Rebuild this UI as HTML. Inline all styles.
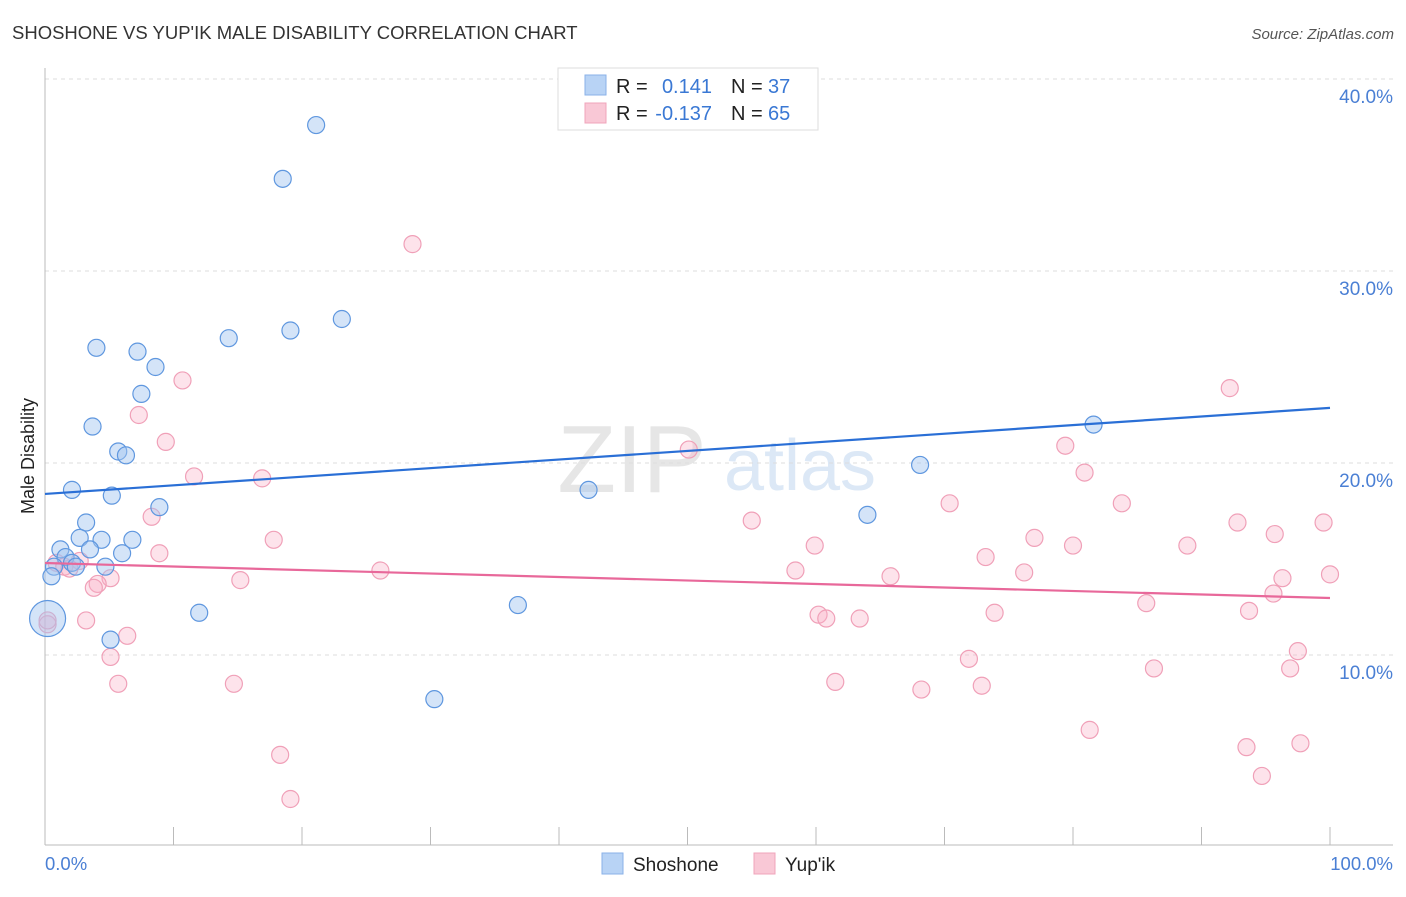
<!DOCTYPE html>
<html><head><meta charset="utf-8"><style>
body{margin:0;background:#fff;font-family:"Liberation Sans",sans-serif;}
svg text{font-family:"Liberation Sans",sans-serif;}
</style></head><body>
<svg id="chart" width="1406" height="892">
<text x="12" y="39" font-size="18.5" fill="#333">SHOSHONE VS YUP'IK MALE DISABILITY CORRELATION CHART</text>
<text x="1394" y="39" font-size="15" fill="#555" font-style="italic" text-anchor="end">Source: ZipAtlas.com</text>
<text x="632" y="492" font-size="96" fill="#e6e6e6" font-family="Liberation Serif" text-anchor="middle">ZIP</text>
<text x="800" y="490" font-size="72" fill="#dce8f6" text-anchor="middle">atlas</text>
<text transform="translate(34,456) rotate(-90)" font-size="18" fill="#222" text-anchor="middle">Male Disability</text>
<g id="grid"></g><g id="pts"></g><g id="lines"></g>
<g>
<rect x="558" y="68" width="260" height="62" fill="#fff" stroke="#ddd"/>
<rect x="585" y="75" width="21" height="20" fill="#b8d3f5" stroke="#8ab2e8"/>
<rect x="585" y="103" width="21" height="20" fill="#f9c8d6" stroke="#f0a4bb"/>
<text x="616" y="93" font-size="20" fill="#222">R =</text>
<text x="712" y="93" font-size="20" fill="#3a78d4" text-anchor="end">0.141</text>
<text x="731" y="93" font-size="20" fill="#222">N =</text><text x="768" y="93" font-size="20" fill="#3a78d4">37</text>
<text x="616" y="120" font-size="20" fill="#222">R =</text>
<text x="712" y="120" font-size="20" fill="#3a78d4" text-anchor="end">-0.137</text>
<text x="731" y="120" font-size="20" fill="#222">N =</text><text x="768" y="120" font-size="20" fill="#3a78d4">65</text>
</g>
<g>
<rect x="602" y="853" width="21" height="21" fill="#b8d3f5" stroke="#8ab2e8"/>
<text x="633" y="871" font-size="19" fill="#222">Shoshone</text>
<rect x="754" y="853" width="21" height="21" fill="#f9c8d6" stroke="#f0a4bb"/>
<text x="785" y="871" font-size="19" fill="#222">Yup'ik</text>
</g>
<text x="45" y="870" font-size="18.5" fill="#4a7fd4">0.0%</text>
<text x="1393" y="870" font-size="18.5" fill="#4a7fd4" text-anchor="end">100.0%</text>
</svg>
<script>
const yTicks=[10,20,30,40];
const blueX=[21.1,18.5,23.1,19.1,14.3,4.0,7.2,8.6,7.5,3.7,5.7,6.3,2.1,5.2,8.9,3.2,2.7,4.4,6.8,1.2,3.5,6.0,1.6,2.1,0.7,4.7,2.4,0.5,12.0,5.1,0.2,30.3,36.8,42.3,64.0,68.1,81.6];
const blueY=[37.6,34.8,27.5,26.9,26.5,26.0,25.8,25.0,23.6,21.9,20.6,20.4,18.6,18.3,17.7,16.9,16.1,16.0,16.0,15.5,15.5,15.3,15.1,14.8,14.6,14.6,14.6,14.1,12.2,10.8,11.9,7.7,12.6,18.6,17.3,19.9,22.0];
const pinkX=[28.6,10.7,7.3,9.4,11.6,16.9,8.3,17.8,8.9,0.9,1.5,2.7,1.9,5.1,4.1,3.8,15.2,26.1,3.2,6.4,5.1,5.7,14.7,18.3,19.1,0.2,50.1,55.0,59.9,58.4,60.2,60.8,63.4,61.5,65.8,68.2,70.4,71.9,73.2,72.9,73.9,76.2,77.0,80.0,79.4,80.9,81.3,83.8,85.7,86.3,88.9,92.2,92.8,93.5,93.7,94.7,95.7,96.3,95.6,96.9,97.5,97.7,99.5,100.0,0.2];
const pinkY=[31.4,24.3,22.5,21.1,19.3,19.2,17.2,16.0,15.3,14.8,14.6,14.9,14.5,14.0,13.7,13.5,13.9,14.4,11.8,11.0,9.9,8.5,8.5,4.8,2.5,11.6,20.7,17.0,15.7,14.4,12.1,11.9,11.9,8.6,14.1,8.2,17.9,9.8,15.1,8.4,12.2,14.3,16.1,15.7,20.9,19.5,6.1,17.9,12.7,9.3,15.7,23.9,16.9,5.2,12.3,3.7,16.3,14.0,13.2,9.3,10.2,5.4,16.9,14.2,11.8];
const blueTrend=[18.39,22.87];
const pinkTrend=[14.79,12.97];
const X0=45,X1=1330,Y0=847,PX=19.2;
const sx=v=>X0+(X1-X0)*v/100, sy=v=>Y0-v*PX;
const NS='http://www.w3.org/2000/svg';
function mk(t,a,p){const e=document.createElementNS(NS,t);for(const k in a)e.setAttribute(k,a[k]);p.appendChild(e);return e;}
const g=document.getElementById('grid');
yTicks.forEach(t=>{
 const l=mk('line',{x1:45,x2:1393,y1:sy(t),y2:sy(t),stroke:'#ddd','stroke-dasharray':'4,4'},g);
 
 
 const tx=mk('text',{x:1393,y:sy(t)+24,'font-size':19,fill:'#4a7fd4','text-anchor':'end'},g);
 tx.textContent=t.toFixed(1)+'%';
 
 
});
const ax=mk('line',{x1:45,x2:1393,y1:845,y2:845,stroke:'#bbb'},g);


const ay=mk('line',{x1:45,x2:45,y1:68,y2:845,stroke:'#bbb'},g);


for(let i=1;i<=10;i++){const tk=mk('line',{x1:sx(i*10),x2:sx(i*10),y1:827,y2:845,stroke:'#bbb'},g);
 
 }
const p=document.getElementById('pts');
pinkX.forEach((x,i)=>{const c=mk('circle',{cx:sx(x),cy:sy(pinkY[i]),r:8.5,fill:'rgba(248,175,198,0.35)',stroke:'#f0a0b8','stroke-width':1.2},p);
 
 });
blueX.forEach((x,i)=>{const c=mk('circle',{cx:sx(x),cy:sy(blueY[i]),r:i==30?18:8.5,fill:'rgba(160,196,240,0.45)',stroke:'#5f97df','stroke-width':1.2},p);
 
 });
const L=document.getElementById('lines');
const bl=mk('line',{x1:sx(0),x2:sx(100),y1:sy(blueTrend[0]),y2:sy(blueTrend[1]),stroke:'#2a6fd6','stroke-width':2.2},L);


const pl=mk('line',{x1:sx(0),x2:sx(100),y1:sy(pinkTrend[0]),y2:sy(pinkTrend[1]),stroke:'#e8689a','stroke-width':2.2},L);


</script>
</body></html>
